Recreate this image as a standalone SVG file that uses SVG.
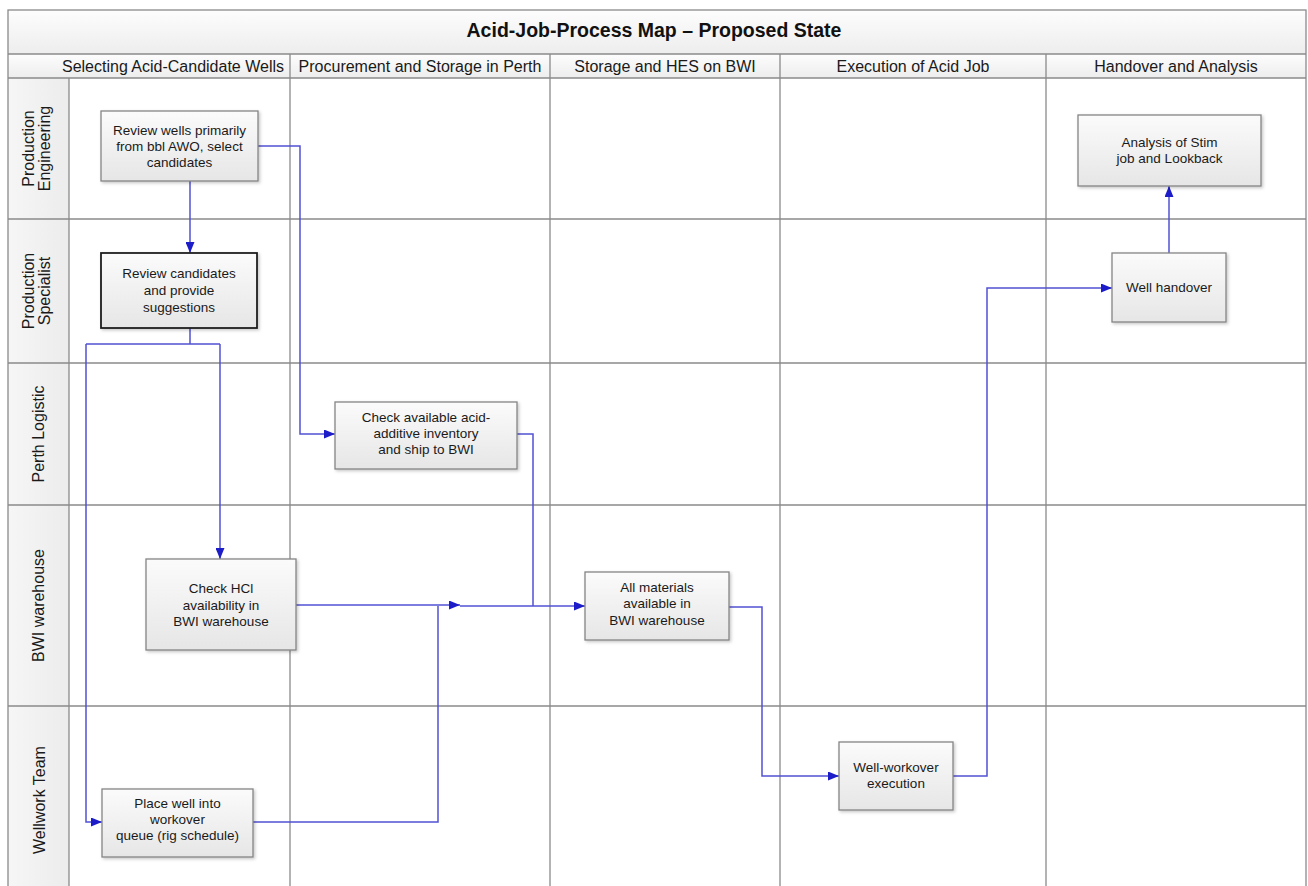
<svg xmlns="http://www.w3.org/2000/svg" width="1308" height="886" viewBox="0 0 1308 886">
  <style>
    .grid { stroke: #8a8a8a; stroke-width: 1.3; fill: none; }
    .title { font-family: "Liberation Sans", Arial, sans-serif; font-weight: bold; font-size: 19.5px; fill: #111; text-anchor: middle; }
    .hdr { font-family: "Liberation Sans", Arial, sans-serif; font-size: 16px; fill: #1a1a1a; text-anchor: middle; }
    .lane { font-family: "Liberation Sans", Arial, sans-serif; font-size: 16px; fill: #1a1a1a; text-anchor: middle; }
    .box { fill: url(#boxFill); stroke: #858585; stroke-width: 1.3; filter: url(#shadow); }
    .box.strong { stroke: #1e1e1e; stroke-width: 1.8; }
    .lbl { font-family: "Liberation Sans", Arial, sans-serif; font-size: 13.5px; fill: #1a1a1a; text-anchor: middle; }
    .flow { stroke: #5252d4; stroke-width: 1.5; fill: none; }
    .flow.arrow { marker-end: url(#head); }
  </style>
  <defs>
    <linearGradient id="boxFill" x1="0" y1="0" x2="0" y2="1">
      <stop offset="0" stop-color="#fbfbfb"/>
      <stop offset="1" stop-color="#e6e6e6"/>
    </linearGradient>
    <linearGradient id="barFill" x1="0" y1="0" x2="0" y2="1">
      <stop offset="0" stop-color="#fdfdfd"/>
      <stop offset="1" stop-color="#ededed"/>
    </linearGradient>
    <linearGradient id="laneFill" x1="0" y1="0" x2="1" y2="0">
      <stop offset="0" stop-color="#f6f6f6"/>
      <stop offset="1" stop-color="#ececec"/>
    </linearGradient>
    <filter id="shadow" x="-10%" y="-10%" width="130%" height="130%">
      <feDropShadow dx="1.5" dy="1.5" stdDeviation="1.5" flood-color="#000" flood-opacity="0.22"/>
    </filter>
    <marker id="head" viewBox="0 0 11 9" refX="11" refY="4.5" markerWidth="11" markerHeight="9" markerUnits="userSpaceOnUse" orient="auto">
      <path d="M0,0 L11,4.5 L0,9 Z" fill="#1c1cc8"/>
    </marker>
  </defs>

  <rect x="0" y="0" width="1308" height="886" fill="#ffffff"/>

  <!-- swimlane frame -->
  <g id="frame">
    <rect x="8" y="10" width="1298" height="44" fill="url(#barFill)"/>
    <rect x="8" y="54" width="1298" height="24" fill="url(#barFill)"/>
    <rect x="8" y="78" width="61" height="816" fill="url(#laneFill)"/>
    <rect class="grid" x="8" y="10" width="1298" height="884"/>
    <line class="grid" x1="8" y1="54" x2="1306" y2="54"/>
    <line class="grid" x1="8" y1="78" x2="1306" y2="78"/>
    <line class="grid" x1="69" y1="78" x2="69" y2="894"/>
    <line class="grid" x1="290" y1="54" x2="290" y2="894"/>
    <line class="grid" x1="550" y1="54" x2="550" y2="894"/>
    <line class="grid" x1="780" y1="54" x2="780" y2="894"/>
    <line class="grid" x1="1046" y1="54" x2="1046" y2="894"/>
    <line class="grid" x1="8" y1="219" x2="1306" y2="219"/>
    <line class="grid" x1="8" y1="363" x2="1306" y2="363"/>
    <line class="grid" x1="8" y1="505" x2="1306" y2="505"/>
    <line class="grid" x1="8" y1="706" x2="1306" y2="706"/>
  </g>

  <text class="title" x="654" y="37">Acid-Job-Process Map – Proposed State</text>

  <g id="phases">
    <text class="hdr" x="173" y="71.5">Selecting Acid-Candidate Wells</text>
    <text class="hdr" x="420" y="71.5">Procurement and Storage in Perth</text>
    <text class="hdr" x="665" y="71.5">Storage and HES on BWI</text>
    <text class="hdr" x="913" y="71.5">Execution of Acid Job</text>
    <text class="hdr" x="1176" y="71.5">Handover and Analysis</text>
  </g>

  <g id="lanes">
    <g transform="translate(0,148.5) rotate(-90)">
      <text class="lane" x="0" y="34">Production</text>
      <text class="lane" x="0" y="50">Engineering</text>
    </g>
    <g transform="translate(0,291) rotate(-90)">
      <text class="lane" x="0" y="34">Production</text>
      <text class="lane" x="0" y="50">Specialist</text>
    </g>
    <g transform="translate(0,434) rotate(-90)">
      <text class="lane" x="0" y="44">Perth Logistic</text>
    </g>
    <g transform="translate(0,605.5) rotate(-90)">
      <text class="lane" x="0" y="44">BWI warehouse</text>
    </g>
    <g transform="translate(0,800) rotate(-90)">
      <text class="lane" x="0" y="44.5">Wellwork Team</text>
    </g>
  </g>

  <!-- connectors -->
  <g id="connectors">
    <path class="flow arrow" d="M190,181 V253"/>
    <path class="flow arrow" d="M258,146 H300 V434 H335"/>
    <path class="flow" d="M190,328 V344 M86,344 H220"/>
    <path class="flow arrow" d="M220,344 V559"/>
    <path class="flow arrow" d="M86,344 V822 H102"/>
    <path class="flow arrow" d="M296,605 H460"/>
    <path class="flow arrow" d="M460,606 H585"/>
    <path class="flow" d="M253,822 H438 V606"/>
    <path class="flow" d="M517,434 H533 V606"/>
    <path class="flow arrow" d="M729,607 H762 V776 H839"/>
    <path class="flow arrow" d="M953,776 H987 V288 H1112"/>
    <path class="flow arrow" d="M1169,253 V186"/>
  </g>

  <!-- process steps -->
  <g id="review-wells">
    <rect class="box" x="101" y="111" width="157" height="70"/>
    <text class="lbl" x="179.5" y="135">Review wells primarily</text>
    <text class="lbl" x="179.5" y="151">from bbl AWO, select</text>
    <text class="lbl" x="179.5" y="167">candidates</text>
  </g>
  <g id="review-candidates">
    <rect class="box strong" x="101" y="253" width="156" height="75"/>
    <text class="lbl" x="179" y="278">Review candidates</text>
    <text class="lbl" x="179" y="295">and provide</text>
    <text class="lbl" x="179" y="312">suggestions</text>
  </g>
  <g id="check-inventory">
    <rect class="box" x="335" y="402" width="182" height="67"/>
    <text class="lbl" x="426" y="422">Check available acid-</text>
    <text class="lbl" x="426" y="438">additive inventory</text>
    <text class="lbl" x="426" y="454">and ship to BWI</text>
  </g>
  <g id="check-hcl">
    <rect class="box" x="146" y="559" width="150" height="91"/>
    <text class="lbl" x="221" y="593">Check HCl</text>
    <text class="lbl" x="221" y="610">availability in</text>
    <text class="lbl" x="221" y="626">BWI warehouse</text>
  </g>
  <g id="materials-available">
    <rect class="box" x="585" y="572" width="144" height="68"/>
    <text class="lbl" x="657" y="592">All materials</text>
    <text class="lbl" x="657" y="608">available in</text>
    <text class="lbl" x="657" y="625">BWI warehouse</text>
  </g>
  <g id="workover-queue">
    <rect class="box" x="102" y="789" width="151" height="68"/>
    <text class="lbl" x="177.5" y="808">Place well into</text>
    <text class="lbl" x="177.5" y="824">workover</text>
    <text class="lbl" x="177.5" y="840">queue (rig schedule)</text>
  </g>
  <g id="workover-execution">
    <rect class="box" x="839" y="742" width="114" height="68"/>
    <text class="lbl" x="896" y="772">Well-workover</text>
    <text class="lbl" x="896" y="788">execution</text>
  </g>
  <g id="well-handover">
    <rect class="box" x="1112" y="253" width="114" height="69"/>
    <text class="lbl" x="1169" y="292">Well handover</text>
  </g>
  <g id="stim-analysis">
    <rect class="box" x="1078" y="115" width="183" height="71"/>
    <text class="lbl" x="1169.5" y="147">Analysis of Stim</text>
    <text class="lbl" x="1169.5" y="163">job and Lookback</text>
  </g>
</svg>
